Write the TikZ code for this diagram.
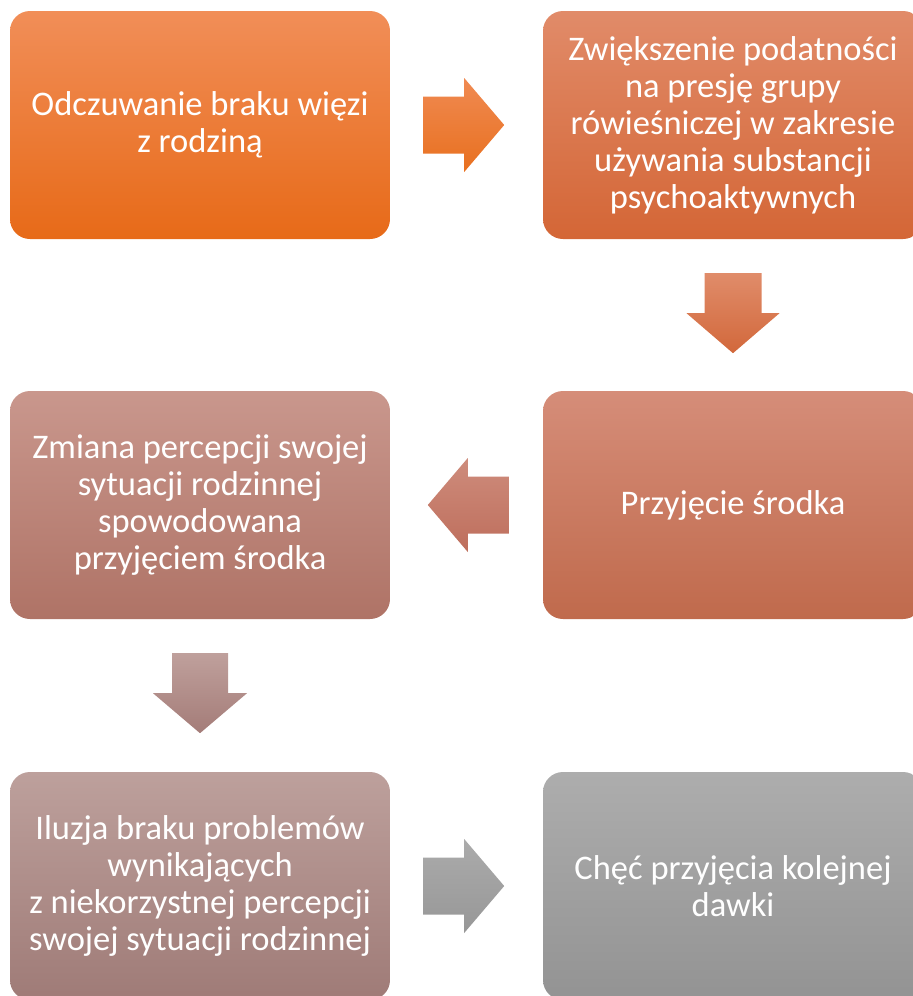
\documentclass[tikz,border=0pt]{standalone}
\usepackage{fontspec}
\setmainfont{Carlito}
\usetikzlibrary{calc}
\definecolor{c1t}{HTML}{F18E58}
\definecolor{c1b}{HTML}{E76A18}
\definecolor{c2t}{HTML}{E18B69}
\definecolor{c2b}{HTML}{D46636}
\definecolor{c3t}{HTML}{C9978D}
\definecolor{c3b}{HTML}{AF7366}
\definecolor{c4t}{HTML}{D58D79}
\definecolor{c4b}{HTML}{C06A4C}
\definecolor{c5t}{HTML}{BDA09C}
\definecolor{c5b}{HTML}{9F7B77}
\definecolor{c6t}{HTML}{ADADAD}
\definecolor{c6b}{HTML}{939393}
\definecolor{a1t}{HTML}{F08A52}
\definecolor{a1b}{HTML}{E8701F}
\definecolor{a2t}{HTML}{E08C6A}
\definecolor{a2b}{HTML}{D2683B}
\definecolor{a3t}{HTML}{CE8C7C}
\definecolor{a3b}{HTML}{BE6E5C}
\definecolor{a4t}{HTML}{BFA09C}
\definecolor{a4b}{HTML}{A47C78}
\definecolor{a5t}{HTML}{ABABAB}
\definecolor{a5b}{HTML}{979797}
\begin{document}
\begin{tikzpicture}[x=1pt,y=-1pt,
  stepbox/.style={rounded corners=20pt, minimum width=380pt, minimum height=228pt,
    inner sep=0pt, align=center, text=white, font=\fontsize{34.5}{37}\selectfont}]
\useasboundingbox (0,0) rectangle (913,996);
\node[stepbox, top color=c1t, bottom color=c1b] (n1) at (200,125)
  {Odczuwanie braku więzi\\z rodziną};
\node[stepbox, top color=c2t, bottom color=c2b] (n2) at (733,125)
  {Zwiększenie podatności\\na presję grupy\\rówieśniczej w zakresie\\używania substancji\\psychoaktywnych};
\node[stepbox, top color=c4t, bottom color=c4b] (n4) at (733,505)
  {Przyjęcie środka};
\node[stepbox, top color=c3t, bottom color=c3b] (n3) at (200,505)
  {Zmiana percepcji swojej\\sytuacji rodzinnej\\spowodowana\\przyjęciem środka};
\node[stepbox, top color=c5t, bottom color=c5b] (n5) at (200,886)
  {Iluzja braku problemów\\wynikających\\z niekorzystnej percepcji\\swojej sytuacji rodzinnej};
\node[stepbox, top color=c6t, bottom color=c6b] (n6) at (733,886)
  {Chęć przyjęcia kolejnej\\dawki};
% right arrow n1 -> n2
\begin{scope}[shift={(n1.east)}]
\path[top color=a1t, bottom color=a1b] (33,-28.5) -- (74,-28.5) -- (74,-47) -- (114,0)
  -- (74,47) -- (74,28.5) -- (33,28.5) -- cycle;
\end{scope}
% down arrow n2 -> n4
\begin{scope}[shift={(n2.south)}]
\path[top color=a2t, bottom color=a2b] (-28.5,34) -- (28.5,34) -- (28.5,74) -- (46.5,74)
  -- (0,114) -- (-46.5,74) -- (-28.5,74) -- cycle;
\end{scope}
% left arrow n4 -> n3
\begin{scope}[shift={(n4.west)}]
\path[top color=a3t, bottom color=a3b] (-34,-28.5) -- (-75,-28.5) -- (-75,-47) -- (-115,0)
  -- (-75,47) -- (-75,28.5) -- (-34,28.5) -- cycle;
\end{scope}
% down arrow n3 -> n5
\begin{scope}[shift={(n3.south)}]
\path[top color=a4t, bottom color=a4b] (-28,34) -- (28,34) -- (28,74) -- (47,74)
  -- (0,114) -- (-47,74) -- (-28,74) -- cycle;
\end{scope}
% right arrow n5 -> n6
\begin{scope}[shift={(n5.east)}]
\path[top color=a5t, bottom color=a5b] (33,-28.5) -- (74,-28.5) -- (74,-47) -- (114,0)
  -- (74,47) -- (74,28.5) -- (33,28.5) -- cycle;
\end{scope}
\end{tikzpicture}
\end{document}
